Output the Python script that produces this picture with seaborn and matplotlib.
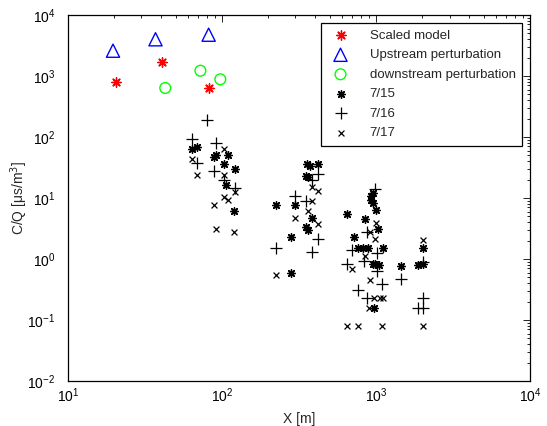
import matplotlib
matplotlib.use("Agg")
import matplotlib.pyplot as plt
import seaborn as sns

# scaled model / perturbation runs
scaled_x = [20.6, 41, 81.9]
scaled_y = [789, 1678, 636]
up_x = [19.6, 37, 81.9]
up_y = [2600, 4000, 4755]
down_x = [42.8, 72.4, 97.5]
down_y = [636, 1222, 883]

# field data 7/15
d15_x = [68.7, 64.3, 91.2, 88.3, 108.7, 102.4, 120.6, 105.8, 119.2,
         357.5, 370.6, 419.4, 350.8, 364, 225.4, 297.8, 381.9, 352, 364, 279.3, 279.3,
         953, 931, 931, 953, 1002, 852, 1024, 649, 717, 764, 819, 882, 1104,
         985, 1040, 953, 1459, 1879, 2022, 2022, 973]
d15_y = [69.8, 63.1, 50.7, 46.5, 50.7, 35.8, 30.2, 16.3, 6.12,
         36.1, 33.9, 36.1, 23.2, 21.8, 7.67, 7.67, 4.65, 3.31, 2.99, 2.27, 0.596,
         11.94, 10.78, 9.27, 8.19, 6.24, 4.56, 3.16, 5.37, 2.30, 1.54, 1.54, 1.54, 1.54,
         0.843, 0.798, 0.818, 0.782, 0.798, 0.818, 1.51, 0.155]

# field data 7/16
d16_x = [79.8, 64.3, 91.2, 68.7, 88.3, 102.4, 120.6,
         419.4, 381.9, 297.8, 350.8, 419.4, 225.4, 381.9,
         985, 869, 699, 1014, 649, 831, 1014, 1090, 1459, 2022, 764, 869, 2022, 1879, 2022]
d16_y = [190, 91.7, 79.8, 37.5, 28.0, 20.1, 14.6,
         24.7, 19.7, 10.8, 8.93, 2.10, 1.53, 1.32,
         14.06, 2.82, 1.41, 1.24, 0.843, 0.937, 0.636, 0.389, 0.465, 0.883, 0.316, 0.230,
         0.230, 0.155, 0.155]

# field data 7/17
d17_x = [102.4, 64.3, 68.7, 102.4, 120.6, 102.4, 108.7, 88.3, 91.2, 119.2,
         381.9, 419.4, 381.9, 364, 297.8, 419.4, 225.4,
         1002, 920, 985, 2022, 831, 852, 699, 920, 973, 1066, 1104, 896,
         649, 764, 1090, 2022]
d17_y = [63.1, 43.9, 23.8, 23.8, 12.5, 10.2, 9.4, 7.76, 3.07, 2.75,
         15.3, 13.0, 8.93, 6.12, 4.75, 3.75, 0.541,
         3.89, 2.72, 2.09, 2.05, 1.54, 1.10, 0.698, 0.453, 0.230, 0.230, 0.230, 0.155,
         0.0798, 0.0798, 0.0798, 0.0798]

xlim = (10, 1e4)
ylim = (1e-2, 1e4)

sns.set_style("white")
plt.rcParams["font.family"] = ["Liberation Sans", "DejaVu Sans"]

fig = plt.figure(figsize=(5.47, 4.26), dpi=100)
ax = fig.add_axes([0.1243, 0.1056, 0.8447, 0.8592])

asterisk = (8, 2, 0)

sns.scatterplot(x=scaled_x, y=scaled_y, marker=asterisk, s=45, color="red",
                linewidth=1.0, label="Scaled model", ax=ax)
sns.scatterplot(x=up_x, y=up_y, marker="^", s=90, facecolor="none",
                edgecolor="blue", linewidth=1.0, label="Upstream perturbation", ax=ax)
sns.scatterplot(x=down_x, y=down_y, marker="o", s=60, facecolor="none",
                edgecolor="#00ff00", linewidth=1.0, label="downstream perturbation", ax=ax)
sns.scatterplot(x=d15_x, y=d15_y, marker=asterisk, s=30, color="black",
                linewidth=1.0, label="7/15", ax=ax)
sns.scatterplot(x=d16_x, y=d16_y, marker="+", s=70, color="black",
                linewidth=0.9, label="7/16", ax=ax)
sns.scatterplot(x=d17_x, y=d17_y, marker="x", s=18, color="black",
                linewidth=0.9, label="7/17", ax=ax)

ax.set_xscale("log")
ax.set_yscale("log")
ax.set_xlim(*xlim)
ax.set_ylim(*ylim)
ax.set_xlabel("X [m]", fontsize=10, labelpad=5)
ax.set_ylabel("C/Q [μs/m$^3$]", fontsize=10, labelpad=-2)

for s in ax.spines.values():
    s.set_color("black")
    s.set_linewidth(0.9)

# decade ticks only inside the limits
xt = [10.0 ** k for k in range(1, 5)]
yt = [10.0 ** k for k in range(-2, 5)]
ax.set_xticks(xt)
ax.set_yticks(yt)
ax.xaxis.set_minor_locator(matplotlib.ticker.LogLocator(base=10, subs=range(2, 10), numticks=20))
ax.yaxis.set_minor_locator(matplotlib.ticker.LogLocator(base=10, subs=range(2, 10), numticks=20))
ax.xaxis.set_minor_formatter(matplotlib.ticker.NullFormatter())
ax.yaxis.set_minor_formatter(matplotlib.ticker.NullFormatter())
ax.set_xlim(*xlim)
ax.set_ylim(*ylim)

ax.tick_params(which="both", direction="in", top=True, right=True, colors="black",
               labelsize=10)
ax.tick_params(which="major", length=5, width=0.6)
ax.tick_params(axis="x", which="major", pad=4)
ax.tick_params(axis="y", which="major", pad=9)
ax.tick_params(which="minor", length=2.5, width=0.6)

leg = ax.legend(loc="upper right", fontsize=9.5, frameon=True, fancybox=False,
                edgecolor="black", framealpha=1, scatterpoints=1,
                labelspacing=0.55, borderaxespad=0.6, handletextpad=1.2,
                borderpad=0.5)
leg.get_frame().set_linewidth(0.9)

fig.savefig("out.png", dpi=100)
